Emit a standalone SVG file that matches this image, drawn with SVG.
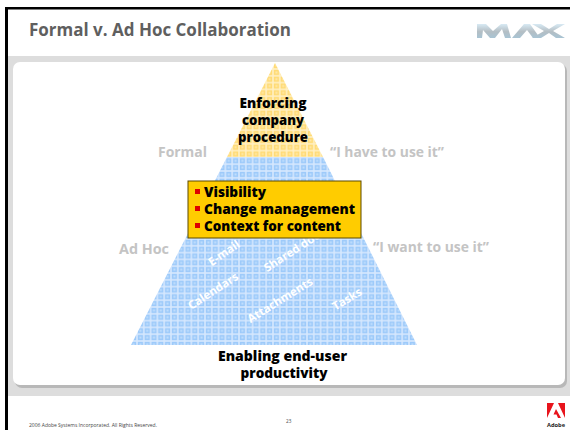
<svg xmlns="http://www.w3.org/2000/svg" width="570" height="430" viewBox="0 0 570 430">
<style>
text{font-family:"Open Sans","Noto Sans","Liberation Sans",sans-serif;font-weight:700}
.k{fill:#000;font-size:14px;text-anchor:middle;font-weight:800}
.g{fill:#c4c4c4;font-size:14.5px}
.l{fill:#000;font-size:14.5px;font-weight:800}
.w{fill:#fff;font-size:11.500px;text-anchor:middle}
.b{fill:#dd0000}
.f{fill:#444;font-weight:400}
</style>
<defs>
<pattern id="py" width="6.8" height="6.8" patternUnits="userSpaceOnUse" x="1" y="1">
<rect width="6.8" height="6.8" fill="#fff0c4"/>
<rect x=".8" y=".8" width="5.2" height="5.2" fill="#ffdb75"/>
<rect x="2.400" y="2.400" width="2" height="2" fill="#ffe9ac"/>
</pattern>
<pattern id="pb" width="6.8" height="6.8" patternUnits="userSpaceOnUse" x="1" y="1">
<rect width="6.8" height="6.8" fill="#d6e8fe"/>
<rect x=".8" y=".8" width="5.2" height="5.2" fill="#9dcafa"/>
<rect x="2.400" y="2.400" width="2" height="2" fill="#c2dffd"/>
</pattern>
<linearGradient id="mx" x1="0" y1="0" x2="0" y2="1">
<stop offset="0" stop-color="#d8eaf4"/><stop offset=".55" stop-color="#b4bec4"/><stop offset="1" stop-color="#a8c4d4"/>
</linearGradient>
<filter id="bl" x="-10%" y="-10%" width="120%" height="120%"><feGaussianBlur stdDeviation=".45"/></filter>
</defs>
<rect width="570" height="430" fill="#fff"/>
<g id="frame">
<rect x="5" y="7" width="565" height="2.5" fill="#000"/>
<rect x="5" y="7" width="3" height="423" fill="#000"/>
<rect x="8" y="56" width="562" height="340" fill="#dddddd"/>
<rect x="15" y="64" width="552" height="324" rx="7" fill="#b8b8b8"/>
<rect x="13" y="62" width="552" height="323" rx="7" fill="#fff"/>
</g>
<text id="title" x="29" y="36" font-size="17" fill="#5f5f5f" textLength="262" lengthAdjust="spacingAndGlyphs">Formal v. Ad Hoc Collaboration</text>
<g id="max-logo" filter="url(#bl)" fill="url(#mx)">
<polygon points="477,24 486,24 493,31 501,24 507,24 511,38 505,38 502,29 495,38 490,38 483,30 482,38 477,38"/>
<polygon points="512,38 524,24 530,24 540,38 533,38 527,30 520,38"/>
<polygon points="532,24 541,24 549,29 557,24 565,24 553,31 565,38 556,38 549,33 541,38 532,38 544,31"/>
</g>
<g id="pyramid">
<polygon points="275,63 323,157 227,157" fill="url(#py)"/>
<polygon points="227,157 323,157 417,345 131,345" fill="url(#pb)"/>
</g>
<g id="pyramid-labels">
<text class="w" y="4" transform="translate(224,253) rotate(-35)">E-mail</text>
<text class="w" y="4" transform="translate(294,250) rotate(-33)">Shared docs</text>
<text class="w" y="4" transform="translate(213,291) rotate(-33)">Calendars</text>
<text class="w" y="4" transform="translate(280,300) rotate(-32)">Attachments</text>
<text class="w" y="4" transform="translate(347,299) rotate(-31)">Tasks</text>
</g>
<g id="enforcing">
<text class="k" x="273" y="108" textLength="67" lengthAdjust="spacingAndGlyphs">Enforcing</text>
<text class="k" x="273" y="125" textLength="62" lengthAdjust="spacingAndGlyphs">company</text>
<text class="k" x="273" y="142" textLength="70" lengthAdjust="spacingAndGlyphs">procedure</text>
</g>
<text id="formal" class="g" x="158" y="157" textLength="49" lengthAdjust="spacingAndGlyphs">Formal</text>
<text id="have" class="g" x="330" y="157" textLength="114" lengthAdjust="spacingAndGlyphs">“I have to use it”</text>
<text id="adhoc" class="g" x="119" y="254" textLength="50" lengthAdjust="spacingAndGlyphs">Ad Hoc</text>
<text id="want" class="g" x="373" y="252" textLength="116" lengthAdjust="spacingAndGlyphs">“I want to use it”</text>
<g id="box">
<rect x="188" y="181" width="173" height="57" fill="#ffcc00" stroke="#5c4a00" stroke-width="1"/>
<rect class="b" x="195" y="189" width="5" height="5"/>
<rect class="b" x="195" y="206" width="5" height="5"/>
<rect class="b" x="195" y="223" width="5" height="5"/>
<text class="l" x="204" y="197" textLength="62" lengthAdjust="spacingAndGlyphs">Visibility</text>
<text class="l" x="204" y="214" textLength="151" lengthAdjust="spacingAndGlyphs">Change management</text>
<text class="l" x="204" y="231" textLength="137" lengthAdjust="spacingAndGlyphs">Context for content</text>
</g>
<g id="enabling">
<text class="k" x="282.500" y="361" textLength="129" lengthAdjust="spacingAndGlyphs">Enabling end-user</text>
<text class="k" x="284" y="378" textLength="87" lengthAdjust="spacingAndGlyphs">productivity</text>
</g>
<text id="copyright" class="f" x="29" y="427" font-size="5" textLength="128" lengthAdjust="spacingAndGlyphs">2006 Adobe Systems Incorporated.  All Rights Reserved.</text>
<text id="page" class="f" x="286" y="423" font-size="4.6">23</text>
<g id="adobe-logo" fill="#e8141c">
<polygon points="547,403 554,403 547,418"/>
<polygon points="558,403 565,403 565,418"/>
<polygon points="556,409 561,418 558,418 556.500,414.500 553.500,414.500"/>
<text x="556" y="427" font-size="5.500" fill="#222" text-anchor="middle" textLength="18" lengthAdjust="spacingAndGlyphs">Adobe</text>
</g>
</svg>
